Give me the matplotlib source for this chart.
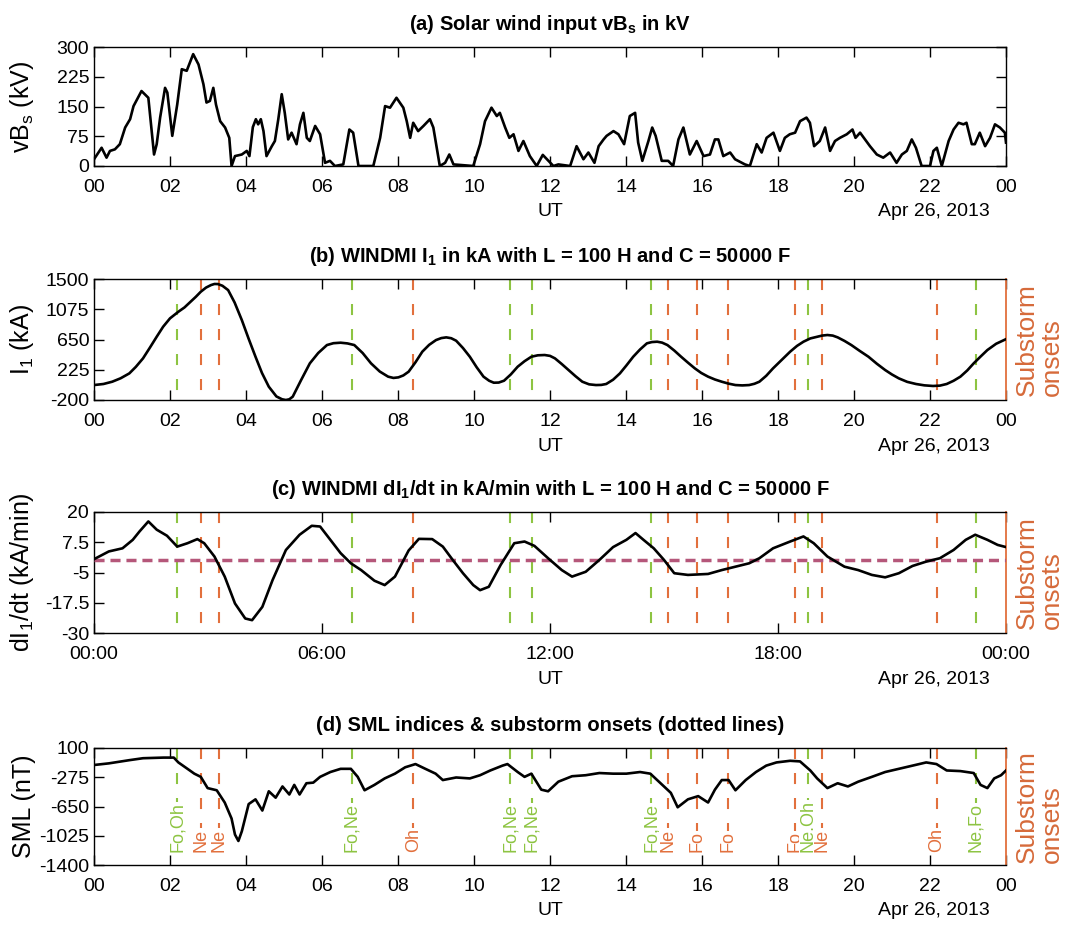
import matplotlib
matplotlib.use('Agg')
import matplotlib.pyplot as plt

plt.rcParams['axes.unicode_minus'] = False
plt.rcParams['mathtext.fontset'] = 'custom'
plt.rcParams['mathtext.rm'] = 'Liberation Sans'
plt.rcParams['mathtext.bf'] = 'Liberation Sans:bold'
plt.rcParams['mathtext.it'] = 'Liberation Sans:italic'
plt.rcParams['font.family'] = ['Liberation Sans', 'DejaVu Sans']

# ---------------- data ----------------
hours_a = [0, 0.2, 0.33, 0.42, 0.55, 0.68, 0.82, 0.95, 1.04, 1.25,
           1.43, 1.58, 1.65, 1.74, 1.87, 1.93, 2.06, 2.19, 2.31, 2.44,
           2.61, 2.75, 2.88, 2.96, 3.05, 3.14, 3.21, 3.32, 3.45, 3.56,
           3.62, 3.71, 3.89, 4.02, 4.09, 4.18, 4.26, 4.32, 4.39, 4.46,
           4.54, 4.68, 4.76, 4.85, 4.94, 5.02, 5.11, 5.2, 5.33, 5.42,
           5.51, 5.6, 5.68, 5.82, 5.95, 6.08, 6.21, 6.34, 6.56, 6.72,
           6.82, 6.96, 7.35, 7.53, 7.66, 7.79, 7.96, 8.14, 8.23, 8.32,
           8.40, 8.53, 8.67, 8.84, 8.93, 9.1, 9.24, 9.35, 9.46, 9.98,
           10.16, 10.29, 10.46, 10.6, 10.68, 10.82, 10.93, 11.04, 11.17, 11.3,
           11.47, 11.65, 11.81, 11.96,
           12.09, 12.22, 12.53, 12.7, 12.88, 13.01, 13.17, 13.28, 13.41, 13.49,
           13.67, 13.8, 13.95, 14.1, 14.24, 14.32, 14.43, 14.59, 14.69, 14.78,
           14.94, 15.11, 15.24, 15.38, 15.51, 15.68, 15.86, 16.04, 16.21, 16.34,
           16.43, 16.56, 16.74, 16.87, 17.13, 17.26, 17.44, 17.57, 17.7, 17.88,
           18.05, 18.18, 18.31, 18.45, 18.58, 18.75, 18.84, 18.95, 19.1, 19.24,
           19.37, 19.5, 19.63, 19.81, 19.96, 20.04, 20.16, 20.29, 20.42, 20.6,
           20.77, 20.95, 21.12, 21.26, 21.39, 21.52, 21.63, 21.78, 22.0, 22.09,
           22.18, 22.31, 22.49, 22.62, 22.75, 22.88, 22.96, 23.1, 23.18, 23.31,
           23.45, 23.58, 23.71, 23.84, 23.97, 24.0]
vbs_kv = [17, 46, 21, 38, 42, 55, 97, 118, 151, 189,
          172, 29, 55, 122, 197, 185, 76, 155, 244, 240,
          282, 256, 206, 160, 164, 197, 155, 113, 97, 71,
          0, 25, 29, 38, 25, 98, 118, 105, 118, 88,
          25, 50, 63, 118, 181, 134, 67, 84, 55, 105,
          134, 71, 63, 101, 80, 8, 13, 0, 4, 92,
          84, 0, 0, 71, 151, 147, 172, 147, 113, 71,
          109, 88, 101, 118, 97, 0, 8, 29, 4, 0,
          55, 113, 147, 126, 134, 97, 71, 80, 38, 63,
          25, 0, 28, 13,
          0, 4, 0, 50, 17, 34, 8, 50, 67, 76,
          88, 80, 55, 126, 134, 59, 13, 63, 97, 76,
          13, 13, 0, 67, 97, 29, 63, 25, 29, 67,
          67, 25, 34, 17, 4, 0, 55, 34, 71, 84,
          38, 71, 80, 84, 113, 122, 109, 50, 63, 97,
          38, 63, 71, 80, 92, 71, 84, 67, 50, 29,
          21, 34, 8, 29, 38, 67, 46, 0, 0, 38,
          46, 0, 63, 92, 109, 105, 109, 55, 55, 84,
          50, 71, 105, 97, 84, 59]

hours_b = [0, 0.25, 0.48, 0.7, 0.93, 1.1, 1.29, 1.47, 1.65, 1.82,
           2.0, 2.22, 2.38, 2.54, 2.68, 2.81, 2.95, 3.08, 3.17, 3.26,
           3.38, 3.53, 3.7, 3.89, 4.07, 4.25, 4.42, 4.6, 4.8, 4.95,
           5.05, 5.14, 5.23, 5.45, 5.68, 5.9, 6.13, 6.3, 6.49, 6.67,
           6.85, 7.07, 7.29, 7.52, 7.74, 7.88, 8.01, 8.14, 8.28, 8.46,
           8.64, 8.82, 9.0, 9.14, 9.27, 9.4, 9.53, 9.71, 9.89, 10.07,
           10.25, 10.4, 10.52, 10.65, 10.79, 10.97, 11.15, 11.33, 11.51, 11.68,
           11.86, 12.0, 12.13, 12.31, 12.49, 12.67, 12.85, 13.03, 13.21, 13.35,
           13.48, 13.66, 13.84, 14.01, 14.19, 14.37, 14.55, 14.68, 14.82, 14.95,
           15.09, 15.27, 15.45, 15.63, 15.81, 15.98, 16.16, 16.34, 16.52, 16.7,
           16.88, 17.06, 17.24, 17.38, 17.51, 17.69, 17.87, 18.1, 18.32, 18.5,
           18.67, 18.85, 19.03, 19.16, 19.3, 19.44, 19.57, 19.75, 19.93, 20.15,
           20.38, 20.6, 20.82, 21.0, 21.18, 21.4, 21.63, 21.85, 22.08, 22.26,
           22.44, 22.62, 22.8, 22.98, 23.15, 23.33, 23.51, 23.74, 24.0]
i1_ka = [10, 25, 57, 105, 174, 265, 385, 535, 689, 830,
         947, 1040, 1100, 1180, 1250, 1321, 1380, 1415, 1430, 1429,
         1405, 1344, 1170, 923, 660, 408, 180, -13, -150, -190,
         -200, -190, -153, 80, 315, 460, 572, 598, 605, 595,
         572, 460, 315, 200, 128, 110, 118, 145, 198, 330,
         479, 575, 642, 670, 680, 668, 633, 530, 408, 260,
         128, 70, 43, 45, 71, 160, 268, 345, 408, 428,
         432, 420, 385, 305, 221, 135, 57, 20, 10, 12,
         25, 85, 174, 285, 408, 510, 596, 614, 619, 606,
         572, 495, 408, 325, 245, 180, 128, 88, 57, 30,
         10, 5, 10, 28, 57, 140, 245, 365, 479, 560,
         619, 665, 689, 705, 713, 705, 680, 630, 572, 490,
         408, 310, 221, 158, 104, 55, 25, 6, -3, 2,
         25, 70, 128, 215, 315, 410, 502, 590, 655]

hours_c = [0, 0.39, 0.75, 1.02, 1.2, 1.43, 1.65, 1.92, 2.19, 2.46,
           2.72, 2.9, 3.17, 3.44, 3.71, 3.98, 4.16, 4.43, 4.7, 5.05,
           5.41, 5.73, 5.95, 6.22, 6.49, 6.76, 7.03, 7.38, 7.65, 7.92,
           8.28, 8.55, 8.9, 9.18, 9.44, 9.71, 9.98, 10.16, 10.39, 10.7,
           11.06, 11.33, 11.59, 11.95, 12.31, 12.58, 12.94, 13.3, 13.66, 14.01,
           14.25, 14.46, 14.73, 15.0, 15.27, 15.63, 16.16, 16.52, 16.88, 17.24,
           17.51, 17.87, 18.32, 18.67, 18.94, 19.3, 19.75, 20.11, 20.47, 20.82,
           21.18, 21.54, 21.9, 22.26, 22.62, 22.94, 23.19, 23.51, 23.78, 24.0]
di1dt = [0.5, 3.7, 5.0, 8.5, 12.0, 16.1, 12.7, 10.2, 5.7, 7.1,
         8.8, 7.1, 1.6, -6.7, -17.8, -24.0, -24.7, -19.2, -8.1, 4.3,
         10.6, 14.3, 14.0, 8.5, 3.0, -1.2, -4.0, -8.4, -10.2, -6.7,
         4.1, 8.9, 8.8, 5.7, 0.2, -5.3, -10.2, -12.3, -10.9, -1.9,
         7.1, 7.8, 6.0, 0.9, -4.0, -6.7, -4.7, 0.2, 5.5, 8.5,
         11.3, 8.5, 5.0, 0.2, -5.3, -6.0, -5.6, -4.0, -2.6, -1.2,
         0.9, 5.0, 7.8, 9.9, 7.1, 1.6, -2.6, -4.0, -6.0, -7.0,
         -5.3, -2.3, -0.5, 0.9, 4.3, 8.5, 10.6, 8.5, 6.4, 5.5]

hours_d = [0, 0.39, 0.93, 1.29, 1.83, 2.1, 2.22, 2.46, 2.64, 2.81,
           2.99, 3.23, 3.44, 3.62, 3.71, 3.8, 3.89, 4.07, 4.25, 4.43,
           4.6, 4.78, 4.96, 5.14, 5.27, 5.41, 5.59, 5.77, 5.95, 6.22,
           6.49, 6.76, 6.94, 7.12, 7.38, 7.65, 7.92, 8.19, 8.46, 8.72,
           8.99, 9.18, 9.53, 9.89, 10.16, 10.43, 10.75, 10.88, 11.15, 11.33,
           11.51, 11.77, 11.95, 12.22, 12.58, 12.94, 13.3, 13.66, 14.01, 14.37,
           14.64, 14.91, 15.18, 15.36, 15.63, 15.9, 16.16, 16.34, 16.52, 16.7,
           16.88, 17.15, 17.42, 17.69, 17.96, 18.32, 18.58, 18.85, 19.03, 19.3,
           19.57, 19.84, 20.11, 20.47, 20.82, 21.18, 21.54, 21.9, 22.17, 22.44,
           22.8, 23.15, 23.33, 23.51, 23.69, 23.87, 24.0]
sml_nt = [-118, -97, -56, -31, -23, -23, -85, -167, -229, -270,
          -414, -442, -599, -804, -1010, -1092, -968, -619, -558, -702,
          -455, -537, -393, -496, -373, -496, -352, -344, -270, -208,
          -167, -167, -270, -442, -373, -290, -229, -147, -106, -167,
          -229, -311, -278, -290, -249, -188, -126, -106, -208, -270,
          -229, -434, -455, -332, -262, -249, -221, -229, -229, -208,
          -229, -352, -475, -660, -558, -517, -599, -434, -311, -311,
          -442, -311, -208, -126, -85, -64, -72, -188, -290, -414,
          -352, -393, -332, -270, -208, -167, -126, -85, -106, -188,
          -196, -221, -373, -414, -290, -249, -188]

onset_hours = [2.19, 2.82, 3.29, 6.78, 8.40, 10.96, 11.52, 14.66,
               15.11, 15.86, 16.68, 18.45, 18.78, 19.15, 22.18, 23.21]
onset_kind = ['g', 'o', 'o', 'g', 'o', 'g', 'g', 'g',
              'o', 'o', 'o', 'o', 'g', 'o', 'o', 'g']
onset_labels = ['Fo,Oh', 'Ne', 'Ne', 'Fo,Ne', 'Oh', 'Fo,Ne', 'Fo,Ne', 'Fo,Ne',
                'Ne', 'Fo', 'Fo', 'Fo', 'Ne,Oh', 'Ne', 'Oh', 'Ne,Fo']

xt_2h = list(range(0, 25, 2))
xt_2h_labels = ['00', '02', '04', '06', '08', '10', '12', '14', '16', '18', '20', '22', '00']
xt_6h = [0, 6, 12, 18, 24]
xt_6h_labels = ['00:00', '06:00', '12:00', '18:00', '00:00']

# ---------------- styling ----------------
GREEN = '#8DC442'
ORANGE = '#E2703D'
LABEL_ORANGE = '#D66A3A'
KIND_COLOR = {'g': GREEN, 'o': ORANGE}
ONSET_LS = (0, (5.3, 6.7))
TICK_FS = 14

W_PX, H_PX = 1069, 926
fig = plt.figure(figsize=(W_PX / 100, H_PX / 100), dpi=100)
LEFT, RIGHT = 94, 1006


def rect(top, bot):
    return [LEFT / W_PX, 1 - bot / H_PX, (RIGHT - LEFT) / W_PX, (bot - top) / H_PX]


panel_px = [(47, 166), (279, 400), (512, 633), (748, 865)]
axes = [fig.add_axes(rect(t, b)) for t, b in panel_px]
axa, axb, axc, axd = axes


def style(ax, ylim, yticks, xticks, xlabels, ylabel, title, onset_panel):
    ax.set_xlim(0, 24)
    ax.set_ylim(*ylim)
    ax.set_yticks(yticks)
    ax.set_yticklabels(['%g' % v for v in yticks], fontsize=TICK_FS)
    ax.set_xticks(xticks)
    ax.set_xticklabels(xlabels, fontsize=TICK_FS)
    ax.tick_params(axis='both', direction='in', length=7, width=1,
                   top=True, right=not onset_panel)
    ax.tick_params(axis='x', pad=9.5)
    ax.tick_params(axis='y', pad=3.5)
    for s in ax.spines.values():
        s.set_linewidth(1.0)
    if onset_panel:
        ax.spines['right'].set_color(ORANGE)
        ax.spines['right'].set_linewidth(1.3)
    ax.set_ylabel(ylabel, fontsize=18, math_fontfamily='custom')
    ax.yaxis.set_label_coords(-0.064, 0.5)
    ax.set_title(title, fontsize=14.5, fontweight='bold', pad=12, math_fontfamily='custom')
    ax.text(0.5, -0.385, 'UT', transform=ax.transAxes, ha='center', va='center',
            fontsize=TICK_FS)
    ax.text(0.9825, -0.385, 'Apr 26, 2013', transform=ax.transAxes, ha='right', va='center',
            fontsize=TICK_FS)
    if onset_panel:
        pos = ax.get_position()
        fig.text(1039 / W_PX, pos.y0 + pos.height / 2, 'Substorm\nonsets', rotation=90,
                 ha='center', va='center', multialignment='left', color=LABEL_ORANGE,
                 fontsize=19, linespacing=1.05)


# (a)
axa.plot(hours_a, vbs_kv, color='black', lw=1.9, zorder=4)
style(axa, (0, 300), [0, 75, 150, 225, 300], xt_2h, xt_2h_labels,
      r'vB$_\mathrm{s}$ (kV)', r'(a) Solar wind input vB$_\mathbf{s}$ in kV', False)

# (b)
for h, k in zip(onset_hours, onset_kind):
    axb.plot([h, h], [1500, -200], color=KIND_COLOR[k], lw=1.5, ls=ONSET_LS, zorder=2)
axb.plot(hours_b, i1_ka, color='black', lw=1.9, zorder=4)
style(axb, (-200, 1500), [-200, 225, 650, 1075, 1500], xt_2h, xt_2h_labels,
      r'I$_\mathrm{1}$ (kA)', r'(b) WINDMI I$_\mathbf{1}$ in kA with L = 100 H and C = 50000 F', True)

# (c)
for h, k in zip(onset_hours, onset_kind):
    axc.plot([h, h], [20, -30], color=KIND_COLOR[k], lw=1.5, ls=ONSET_LS, zorder=2)
axc.axhline(0, color='#B5577A', lw=2.5, ls=(0, (2.9, 1.7)), zorder=3)
axc.plot(hours_c, di1dt, color='black', lw=1.9, zorder=4)
style(axc, (-30, 20), [-30, -17.5, -5, 7.5, 20], xt_6h, xt_6h_labels,
      r'dI$_\mathrm{1}$/dt (kA/min)',
      r'(c) WINDMI dI$_\mathbf{1}$/dt in kA/min with L = 100 H and C = 50000 F', True)

# (d)
for h, k, lab in zip(onset_hours, onset_kind, onset_labels):
    axd.plot([h, h], [100, -1235], color=KIND_COLOR[k], lw=1.5, ls=ONSET_LS, zorder=2)
    axd.text(h, -1235, lab, rotation=90, ha='center', va='bottom', fontsize=13,
             color=KIND_COLOR[k],
             bbox=dict(facecolor='white', edgecolor='none', pad=0.4), zorder=3)
axd.plot(hours_d, sml_nt, color='black', lw=1.9, zorder=4)
style(axd, (-1400, 100), [-1400, -1025, -650, -275, 100], xt_2h, xt_2h_labels,
      'SML (nT)', '(d) SML indices & substorm onsets (dotted lines)', True)

fig.savefig('out.png', dpi=100)
